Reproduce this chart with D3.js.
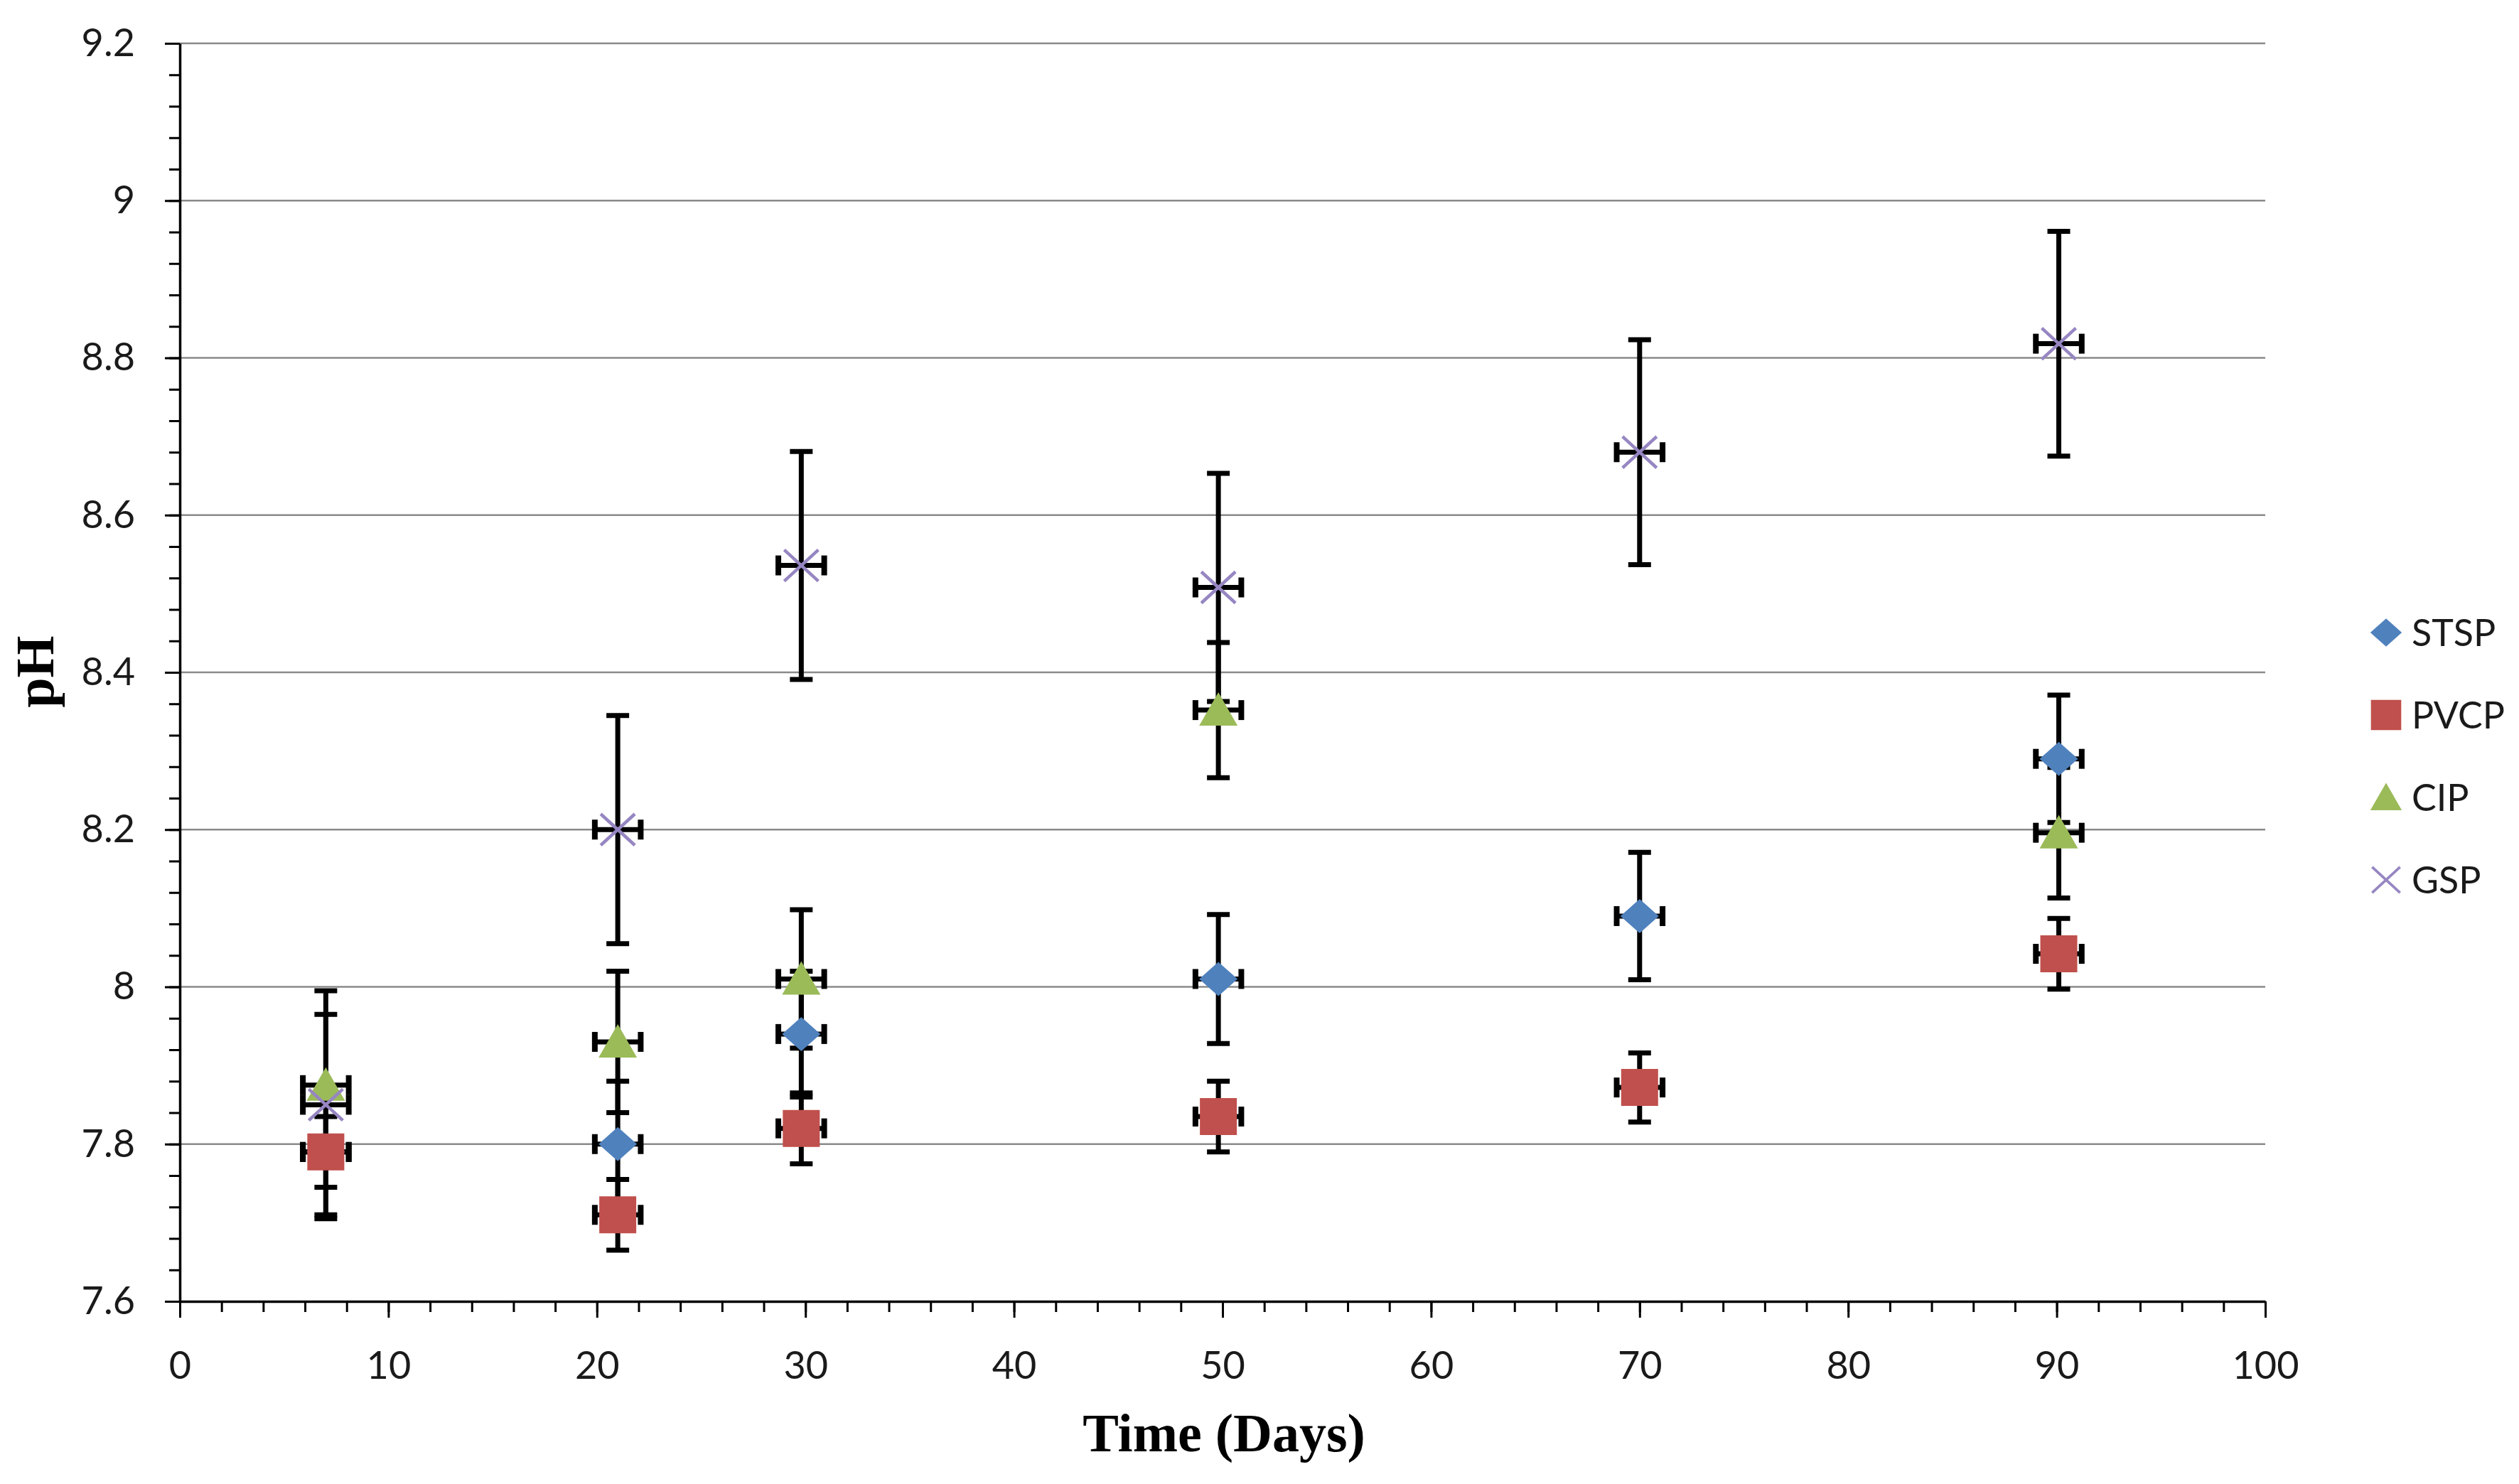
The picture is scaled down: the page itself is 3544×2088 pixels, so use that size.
<!DOCTYPE html>
<html>
<head>
<meta charset="utf-8">
<script src="https://cdn.jsdelivr.net/npm/d3@7"></script>
<style>
  html, body { margin: 0; padding: 0; background: #fff; }
  svg { display: block; }
</style>
</head>
<body>
<svg width="3544" height="2088"></svg>
<script>
var svg = d3.select("svg");

// data
var days = [7, 21, 29.8, 49.8, 70, 90.1];
var dayErr = 1.1;

var stsp    = [7.79, 7.80, 7.94, 8.01, 8.09, 8.29];
var stspErr = [0.08, 0.08, 0.08, 0.082, 0.081, 0.081];

var pvcp    = [7.79, 7.71, 7.82, 7.835, 7.872, 8.042];
var pvcpErr = [0.045, 0.045, 0.045, 0.045, 0.044, 0.045];

var cip     = [7.875, 7.93, 8.01, 8.352, null, 8.196];
var cipErr  = [0.09, 0.09, 0.088, 0.086, null, 0.083];

var gsp     = [7.85, 8.2, 8.536, 8.508, 8.68, 8.818];
var gspErr  = [0.145, 0.145, 0.145, 0.145, 0.143, 0.143];

var seriesNames = ["STSP", "PVCP", "CIP", "GSP"];
var xTicks = [0, 10, 20, 30, 40, 50, 60, 70, 80, 90, 100];
var yTicks = [7.6, 7.8, 8, 8.2, 8.4, 8.6, 8.8, 9, 9.2];

var colors = { STSP: "#4f81bd", PVCP: "#c0504d", CIP: "#9bbb59", GSP: "#9686c2" };

var series = [
  { name: "STSP", vals: stsp, errs: stspErr },
  { name: "PVCP", vals: pvcp, errs: pvcpErr },
  { name: "CIP",  vals: cip,  errs: cipErr },
  { name: "GSP",  vals: gsp,  errs: gspErr }
];

var plotLeft = 253, plotRight = 3187, plotTop = 61, plotBottom = 1831;

var x = d3.scaleLinear().domain([0, 100]).range([plotLeft, plotRight]);
var y = d3.scaleLinear().domain([7.6, 9.2]).range([plotBottom, plotTop]);

var font = "Lato, 'Open Sans', sans-serif";

// gridlines
svg.append("g")
  .selectAll("line")
  .data(yTicks.slice(1))
  .enter().append("line")
  .attr("x1", plotLeft).attr("x2", plotRight)
  .attr("y1", function(d) { return y(d); })
  .attr("y2", function(d) { return y(d); })
  .attr("stroke", "#8a8a8a")
  .attr("stroke-width", 2.5);

// minor ticks
var yMinor = d3.range(7.6, 9.2001, 0.04);
svg.append("g")
  .attr("transform", "translate(" + plotLeft + ",0)")
  .call(d3.axisLeft(y).tickValues(yMinor).tickSize(15).tickSizeOuter(0).tickFormat(""))
  .call(function(g) { g.select(".domain").remove(); })
  .selectAll("line").attr("stroke", "#000").attr("stroke-width", 3);

var xMinor = d3.range(0, 100.001, 2);
svg.append("g")
  .attr("transform", "translate(0," + plotBottom + ")")
  .call(d3.axisBottom(x).tickValues(xMinor).tickSize(15).tickSizeOuter(0).tickFormat(""))
  .call(function(g) { g.select(".domain").remove(); })
  .selectAll("line").attr("stroke", "#000").attr("stroke-width", 3);

// major axes
var yAxis = svg.append("g")
  .attr("transform", "translate(" + plotLeft + ",0)")
  .call(d3.axisLeft(y).tickValues(yTicks).tickSize(21).tickSizeOuter(0).tickPadding(42)
    .tickFormat(function(d) { return String(+d.toFixed(1)); }));

var xAxis = svg.append("g")
  .attr("transform", "translate(0," + plotBottom + ")")
  .call(d3.axisBottom(x).tickValues(xTicks).tickSize(23).tickSizeOuter(0).tickPadding(48)
    .tickFormat(d3.format("d")));

[yAxis, xAxis].forEach(function(g) {
  g.select(".domain").attr("stroke", "#000").attr("stroke-width", 3.5);
  g.selectAll(".tick line").attr("stroke", "#000").attr("stroke-width", 3);
  g.selectAll("text")
    .attr("fill", "#1a1a1a")
    .style("font-family", font)
    .style("font-size", "54px");
});
xAxis.selectAll("text").attr("dy", "0.71em");

// error bars (all drawn under the markers)
var points = [];
series.forEach(function(s) {
  s.vals.forEach(function(v, i) {
    if (v == null) return;
    points.push({ name: s.name, day: days[i], val: v, err: s.errs[i] });
  });
});

var eb = svg.append("g").attr("stroke", "#000").attr("stroke-width", 7);
points.forEach(function(p) {
  var cx = x(p.day), cy = y(p.val);
  var y1 = y(p.val + p.err), y2 = y(p.val - p.err);
  var x1 = x(p.day - dayErr), x2 = x(p.day + dayErr);
  eb.append("line").attr("x1", cx).attr("x2", cx).attr("y1", y1).attr("y2", y2);
  eb.append("line").attr("x1", cx - 16).attr("x2", cx + 16).attr("y1", y1).attr("y2", y1);
  eb.append("line").attr("x1", cx - 16).attr("x2", cx + 16).attr("y1", y2).attr("y2", y2);
  eb.append("line").attr("x1", x1).attr("x2", x2).attr("y1", cy).attr("y2", cy);
  eb.append("line").attr("x1", x1).attr("x2", x1).attr("y1", cy - 14).attr("y2", cy + 14).attr("stroke-width", 8);
  eb.append("line").attr("x1", x2).attr("x2", x2).attr("y1", cy - 14).attr("y2", cy + 14).attr("stroke-width", 8);
});

// marker shapes
function markerPath(name) {
  if (name == "STSP") return "M-27,0L0,-24L27,0L0,24Z";
  if (name == "PVCP") return "M-26,-26H26V26H-26Z";
  if (name == "CIP") return "M0,-25L27,22H-27Z";
  return "M-24,-22L24,22M-24,22L24,-22";
}

function drawMarker(g, name) {
  var path = g.append("path").attr("d", markerPath(name));
  if (name == "GSP") {
    path.attr("fill", "none").attr("stroke", colors[name]).attr("stroke-width", 4.5);
  } else {
    path.attr("fill", colors[name]);
  }
}

var mk = svg.append("g");
points.forEach(function(p) {
  var g = mk.append("g").attr("transform", "translate(" + x(p.day) + "," + y(p.val) + ")");
  drawMarker(g, p.name);
});

// legend
var legend = svg.append("g");
seriesNames.forEach(function(name, i) {
  var ly = 890 + i * 116;
  var g = legend.append("g").attr("transform", "translate(3357," + ly + ") scale(0.82)");
  drawMarker(g, name);
  legend.append("text")
    .attr("x", 3393).attr("y", ly)
    .attr("dy", "0.36em")
    .style("font-family", font)
    .style("font-size", "52px")
    .attr("fill", "#1a1a1a")
    .text(name);
});

// axis titles
svg.append("text")
  .attr("x", 1722).attr("y", 2042)
  .attr("text-anchor", "middle")
  .style("font-family", "'Liberation Serif', 'Times New Roman', serif")
  .style("font-weight", "bold")
  .style("font-size", "76px")
  .text("Time (Days)");

svg.append("text")
  .attr("transform", "translate(75,945) rotate(-90)")
  .attr("text-anchor", "middle")
  .style("font-family", "'Liberation Serif', 'Times New Roman', serif")
  .style("font-weight", "bold")
  .style("font-size", "76px")
  .text("pH");
</script>
</body>
</html>
